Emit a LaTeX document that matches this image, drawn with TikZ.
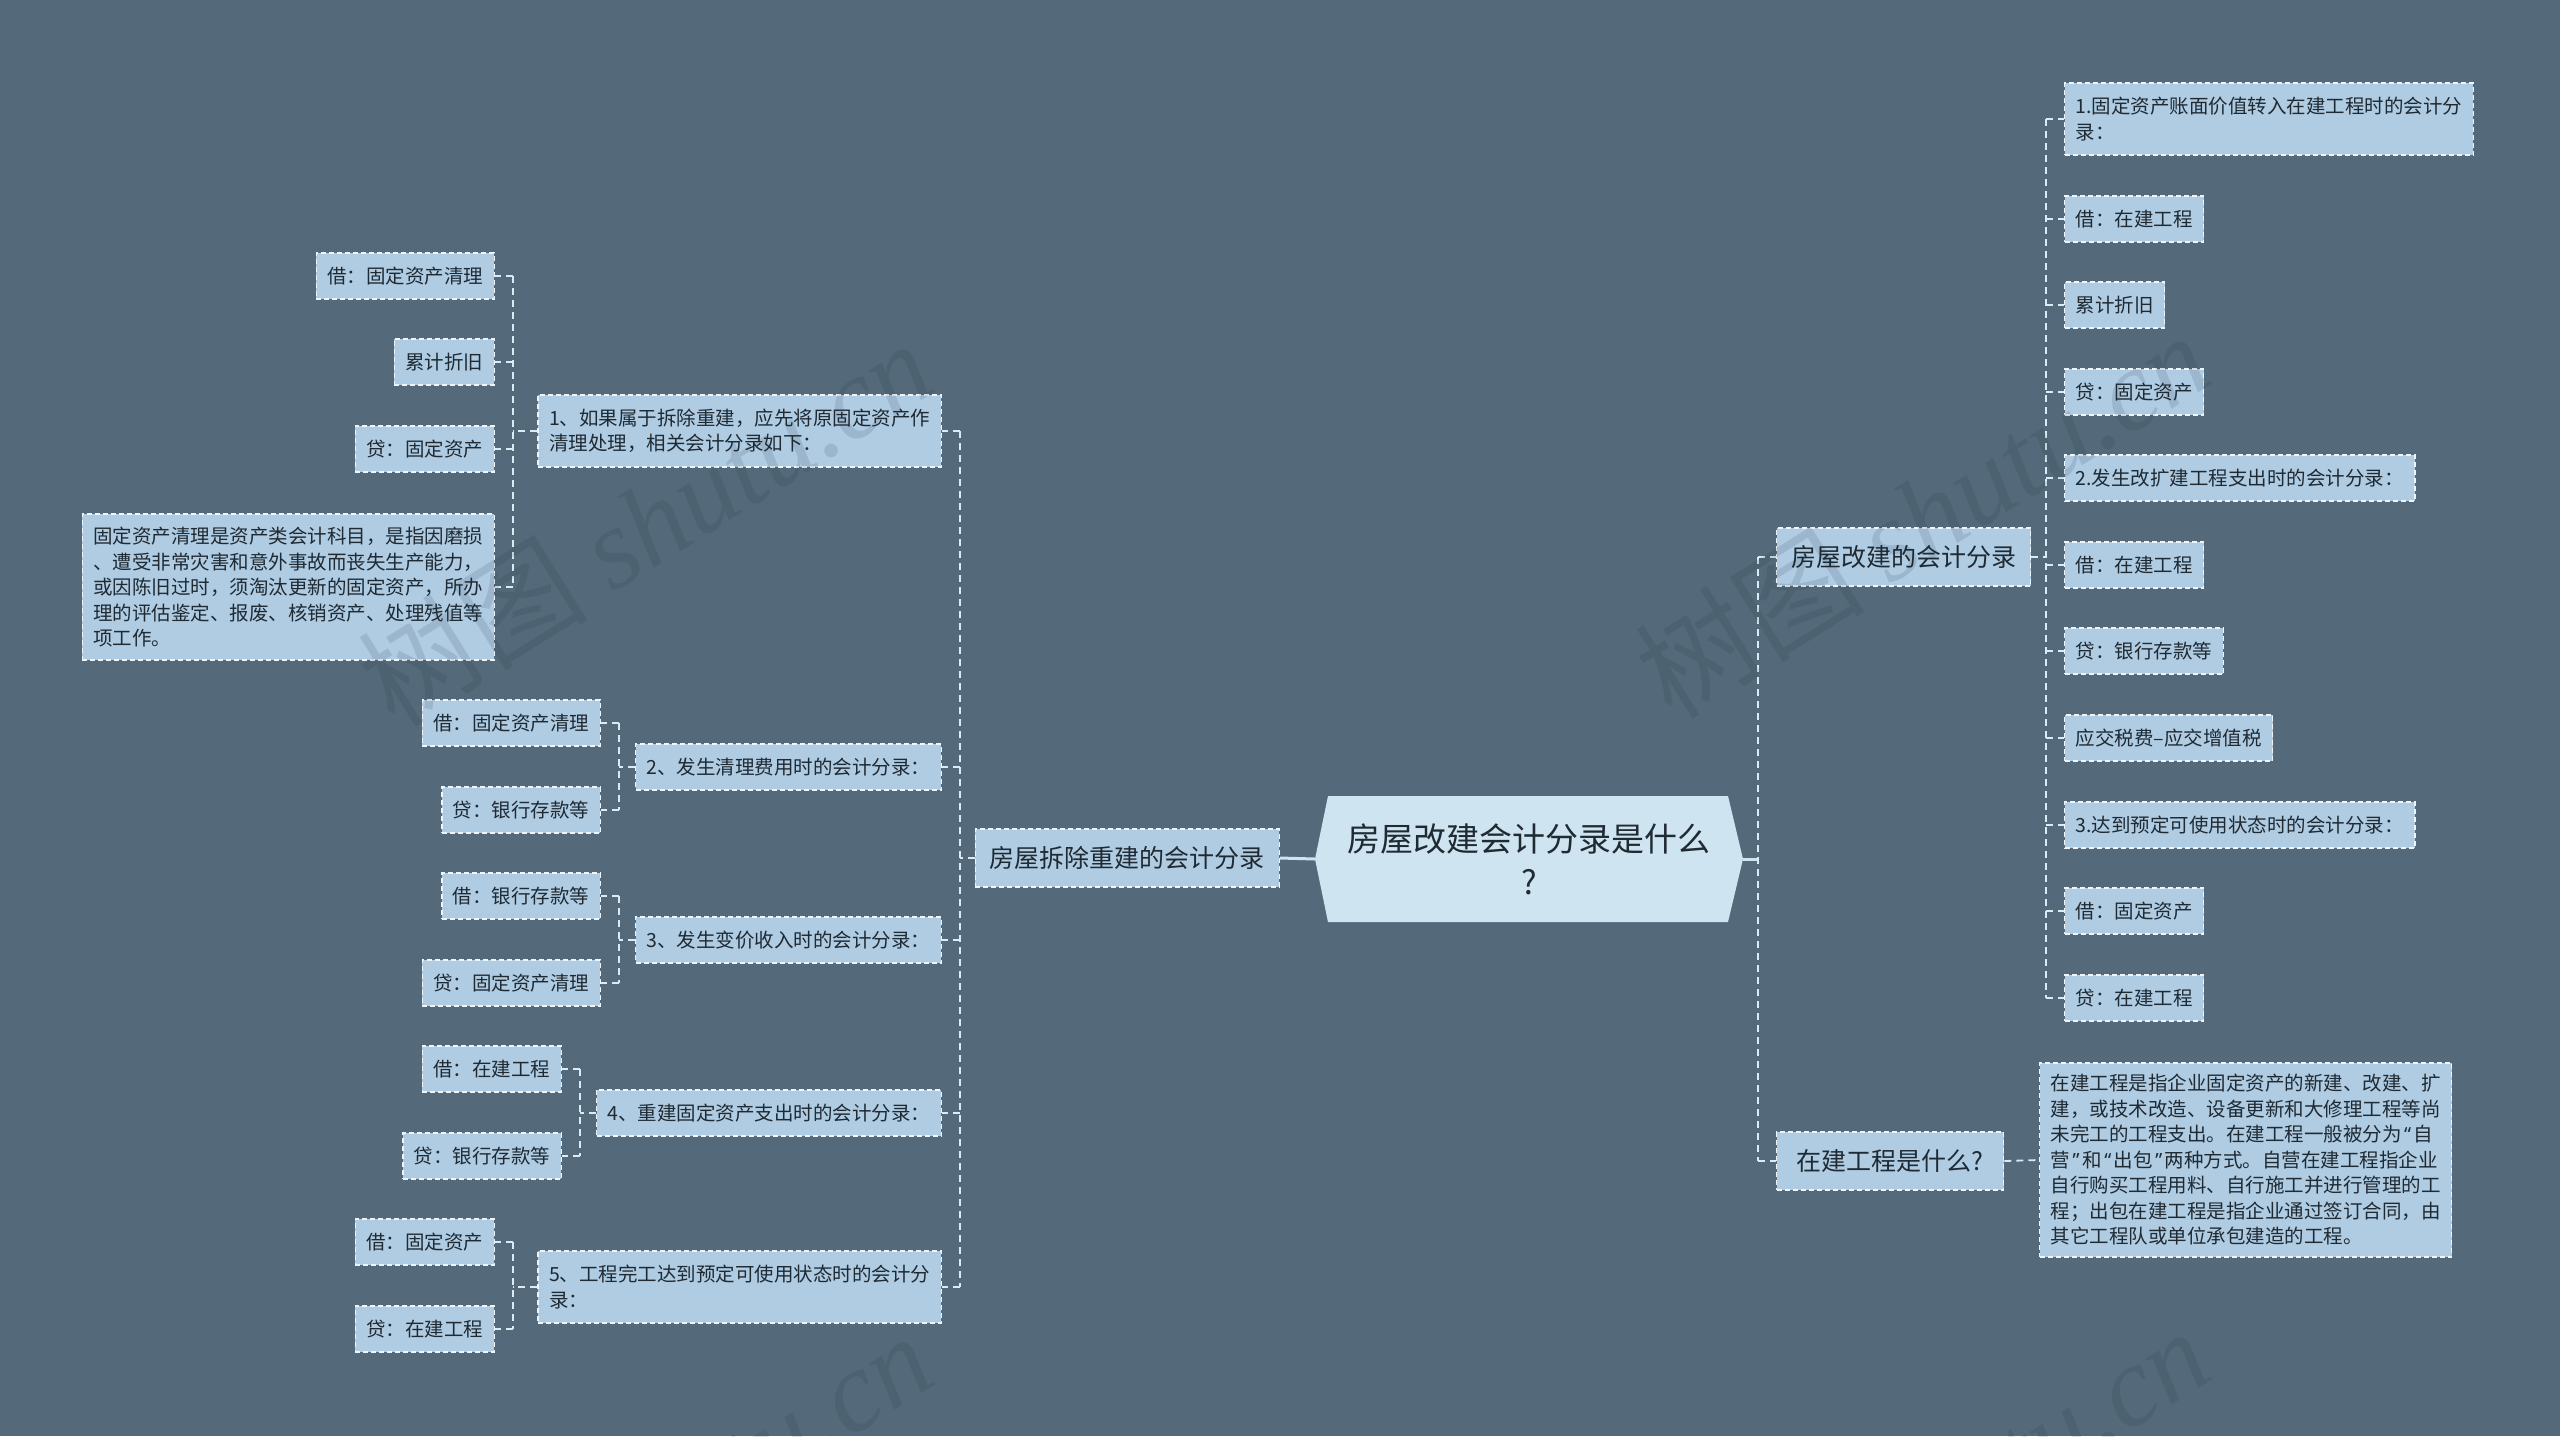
\documentclass[tikz,border=0pt]{standalone}
\usepackage{fontspec}
\setmainfont{Noto Sans CJK SC}
\newfontfamily\wmlatin{Liberation Serif}
\newfontfamily\qfont{Noto Sans}
\newcommand\qmark[1]{\makebox[0.62em][c]{\qfont #1}}
\definecolor{bgc}{HTML}{546A7A}
\definecolor{nodef}{HTML}{AFCCE3}
\definecolor{ctrf}{HTML}{CEE4F0}
\definecolor{edgec}{HTML}{DCEAF3}
\definecolor{bord}{HTML}{EEF5FA}
\definecolor{txt}{HTML}{1F2A33}
\definecolor{wm}{HTML}{1E2E3A}
\begin{document}
\begin{tikzpicture}[x=1pt,y=-1pt,
  leaf/.style={draw=bord, fill=nodef, line width=1.3pt, dash pattern=on 5pt off 3pt,
    text=txt, font=\fontsize{19.5}{25.5}\selectfont, inner xsep=11pt, inner ysep=0pt,
    minimum height=46pt, align=left},
  twoline/.style={leaf, minimum height=72pt},
  branch/.style={leaf, font=\fontsize{25}{30}\selectfont, inner xsep=14.5pt, minimum height=58pt},
  conn/.style={draw=edgec, line width=1.8pt, dash pattern=on 7pt off 5pt},
  solidconn/.style={draw=ctrf, line width=3pt},
  wmark/.style={text=wm, text opacity=0.13, rotate=32, inner sep=0pt,
    font=\fontsize{115}{115}\selectfont}
]
\useasboundingbox (0,0) rectangle (2560,1436);
\fill[bgc] (0,0) rectangle (2560,1436);
\clip (0,0) rectangle (2560,1436);

% centre
\fill[ctrf] (1315,859) -- (1328,796) -- (1728,796) -- (1743,859) -- (1728,922) -- (1328,922) -- cycle;
\node[minimum width=428pt, minimum height=126pt, inner sep=0pt, align=center,
  font=\fontsize{33}{43}\selectfont, text=txt] (c) at (1529,859) {房屋改建会计分录是什么\\?};

% left branch
\node[branch, anchor=east] (lm) at (1280,858) {房屋拆除重建的会计分录};
\coordinate (ls) at (960,858);
\node[twoline, anchor=east] (l1) at (942,431) {1、如果属于拆除重建，应先将原固定资产作\\清理处理，相关会计分录如下：};
\node[leaf, anchor=east] (l2) at (942,767) {2、发生清理费用时的会计分录：};
\node[leaf, anchor=east] (l3) at (942,940) {3、发生变价收入时的会计分录：};
\node[leaf, anchor=east] (l4) at (942,1113) {4、重建固定资产支出时的会计分录：};
\node[twoline, anchor=east] (l5) at (942,1287) {5、工程完工达到预定可使用状态时的会计分\\录：};

\node[leaf, anchor=east] (l1a) at (495,276) {借：固定资产清理};
\node[leaf, anchor=east] (l1b) at (495,362) {累计折旧};
\node[leaf, anchor=east] (l1c) at (495,449) {贷：固定资产};
\node[leaf, anchor=east, minimum height=146pt] (l1d) at (495,587) {固定资产清理是资产类会计科目，是指因磨损\\、遭受非常灾害和意外事故而丧失生产能力，\\或因陈旧过时，须淘汰更新的固定资产，所办\\理的评估鉴定、报废、核销资产、处理残值等\\项工作。};
\coordinate (s1) at (513,431);

\node[leaf, anchor=east] (l2a) at (601,723) {借：固定资产清理};
\node[leaf, anchor=east] (l2b) at (601,810) {贷：银行存款等};
\coordinate (s2) at (619,767);

\node[leaf, anchor=east] (l3a) at (601,896) {借：银行存款等};
\node[leaf, anchor=east] (l3b) at (601,983) {贷：固定资产清理};
\coordinate (s3) at (619,940);

\node[leaf, anchor=east] (l4a) at (562,1069) {借：在建工程};
\node[leaf, anchor=east] (l4b) at (562,1156) {贷：银行存款等};
\coordinate (s4) at (580,1113);

\node[leaf, anchor=east] (l5a) at (495,1242) {借：固定资产};
\node[leaf, anchor=east] (l5b) at (495,1329) {贷：在建工程};
\coordinate (s5) at (513,1287);

% right branch
\node[branch, anchor=west] (r1) at (1776,557) {房屋改建的会计分录};
\node[branch, anchor=west, minimum width=227pt, align=left] (r2) at (1776,1161) {在建工程是什么?};
\coordinate (rs) at (1758,859);

\node[twoline, anchor=west] (ra) at (2064,119) {1.固定资产账面价值转入在建工程时的会计分\\录：};
\node[leaf, anchor=west] (rb) at (2064,219) {借：在建工程};
\node[leaf, anchor=west] (rc) at (2064,305) {累计折旧};
\node[leaf, anchor=west] (rd) at (2064,392) {贷：固定资产};
\node[leaf, anchor=west] (re) at (2064,478) {2.发生改扩建工程支出时的会计分录：};
\node[leaf, anchor=west] (rf) at (2064,565) {借：在建工程};
\node[leaf, anchor=west] (rg) at (2064,651) {贷：银行存款等};
\node[leaf, anchor=west] (rh) at (2064,738) {应交税费–应交增值税};
\node[leaf, anchor=west] (ri) at (2064,825) {3.达到预定可使用状态时的会计分录：};
\node[leaf, anchor=west] (rj) at (2064,911) {借：固定资产};
\node[leaf, anchor=west] (rk) at (2064,998) {贷：在建工程};
\coordinate (s6) at (2046,557);

\node[leaf, anchor=west, minimum height=194pt] (r2d) at (2039,1160) {在建工程是指企业固定资产的新建、改建、扩\\建，或技术改造、设备更新和大修理工程等尚\\未完工的工程支出。在建工程一般被分为\qmark{“}自\\营\qmark{”}和\qmark{“}出包\qmark{”}两种方式。自营在建工程指企业\\自行购买工程用料、自行施工并进行管理的工\\程；出包在建工程是指企业通过签订合同，由\\其它工程队或单位承包建造的工程。};

% connectors: centre
\draw[solidconn] (c.west) -- (lm.east);
\draw[solidconn] (c.east) -- (rs);

% left main spine
\draw[conn] (lm.west) -- (ls);
\draw[conn] (ls |- l1.east) -- (ls |- l5.east);
\foreach \n in {l1,l2,l3,l4,l5} \draw[conn] (ls |- \n.east) -- (\n.east);

% sub-groups left
\draw[conn] (l1.west) -- (s1);
\draw[conn] (s1 |- l1a.east) -- (s1 |- l1d.east);
\foreach \n in {l1a,l1b,l1c,l1d} \draw[conn] (s1 |- \n.east) -- (\n.east);

\draw[conn] (l2.west) -- (s2);
\draw[conn] (s2 |- l2a.east) -- (s2 |- l2b.east);
\foreach \n in {l2a,l2b} \draw[conn] (s2 |- \n.east) -- (\n.east);

\draw[conn] (l3.west) -- (s3);
\draw[conn] (s3 |- l3a.east) -- (s3 |- l3b.east);
\foreach \n in {l3a,l3b} \draw[conn] (s3 |- \n.east) -- (\n.east);

\draw[conn] (l4.west) -- (s4);
\draw[conn] (s4 |- l4a.east) -- (s4 |- l4b.east);
\foreach \n in {l4a,l4b} \draw[conn] (s4 |- \n.east) -- (\n.east);

\draw[conn] (l5.west) -- (s5);
\draw[conn] (s5 |- l5a.east) -- (s5 |- l5b.east);
\foreach \n in {l5a,l5b} \draw[conn] (s5 |- \n.east) -- (\n.east);

% right spines
\draw[conn] (rs |- r1.west) -- (rs |- r2.west);
\foreach \n in {r1,r2} \draw[conn] (rs |- \n.west) -- (\n.west);

\draw[conn] (r1.east) -- (s6);
\draw[conn] (s6 |- ra.west) -- (s6 |- rk.west);
\foreach \n in {ra,rb,rc,rd,re,rf,rg,rh,ri,rj,rk} \draw[conn] (s6 |- \n.west) -- (\n.west);

\draw[conn] (r2.east) -- (r2d.west);

% watermarks
\node[wmark] (w1) at (645,522) {树图 {\wmlatin\itshape shutu.cn}};
\node[wmark] (w2) at (1922,514) {树图 {\wmlatin\itshape shutu.cn}};
\node[wmark] (w3) at (645,1515) {树图 {\wmlatin\itshape shutu.cn}};
\node[wmark] (w4) at (1922,1510) {树图 {\wmlatin\itshape shutu.cn}};
\end{tikzpicture}
\end{document}
